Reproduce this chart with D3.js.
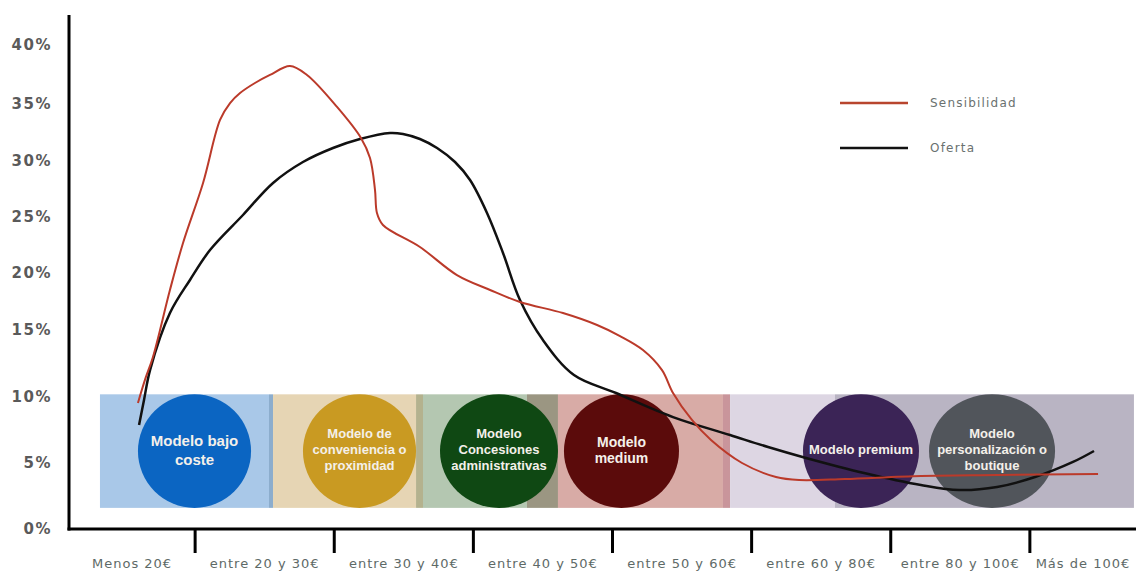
<!DOCTYPE html>
<html>
<head>
<meta charset="utf-8">
<script src="https://cdn.jsdelivr.net/npm/d3@7"></script>
<style>
  html, body { margin: 0; padding: 0; background: #fff; }
  svg { display: block; }
</style>
</head>
<body>
<svg id="chart" width="1136" height="571"></svg>
<script>
// ---------------- DATA ----------------
const categories = ["Menos 20€", "entre 20 y 30€", "entre 30 y 40€", "entre 40 y 50€",
  "entre 50 y 60€", "entre 60 y 80€", "entre 80 y 100€", "Más de 100€"];
const yTickValues = [0, 5, 10, 15, 20, 25, 30, 35, 40];

// Position along the price axis (in category units, 0 = start of "Menos 20€") and value (%)
const sensibilidadPos = [0.589, 0.640, 0.697, 0.819, 0.913, 1.057, 1.179, 1.251, 1.323, 1.430, 1.538, 1.682, 1.804,
  2.020, 2.192, 2.257, 2.293, 2.307, 2.350, 2.616, 2.882, 3.120, 3.335, 3.644, 3.889, 4.054, 4.219, 4.356,
  4.435, 4.571, 4.708, 4.931, 5.175, 5.341, 5.671, 6.217, 6.764, 7.490];
const sensibilidadVal = [9.55, 11.30, 12.99, 18.51, 22.68, 28.04, 33.60, 35.08, 35.93, 36.78, 37.46, 38.22, 37.46,
  34.74, 32.02, 30.26, 27.41, 25.36, 24.29, 22.32, 19.82, 18.51, 17.46, 16.49, 15.44, 14.55, 13.51, 12.01,
  10.30, 8.26, 6.74, 5.00, 3.94, 3.71, 3.79, 4.02, 4.09, 4.17];

const ofertaPos = [0.597, 0.633, 0.676, 0.819, 0.963, 1.107, 1.344, 1.560, 1.775, 1.991, 2.185, 2.401, 2.494,
  2.616, 2.739, 2.868, 2.976, 3.098, 3.213, 3.335, 3.500, 3.723, 4.025, 4.435, 4.845, 5.118, 5.391, 5.808,
  6.217, 6.491, 6.764, 7.037, 7.310, 7.461];
const ofertaVal = [7.88, 9.80, 12.01, 16.49, 19.39, 22.05, 25.18, 28.04, 29.91, 31.14, 31.93, 32.46, 32.37,
  31.93, 31.14, 29.91, 28.30, 25.36, 21.79, 17.63, 14.25, 11.64, 10.30, 8.48, 7.12, 6.21, 5.38, 4.24,
  3.33, 2.95, 3.18, 3.94, 5.08, 5.91];

const seriesNames = ["Sensibilidad", "Oferta"];

// Background model bands (category units) and their colours
const bandStart = [0.316, 1.531, 1.560, 2.588, 2.638, 3.385, 3.608, 4.794, 4.845, 5.599];
const bandEnd   = [1.531, 1.560, 2.588, 2.638, 3.385, 3.608, 4.794, 4.845, 5.599, 7.748];
const bandColors = ["#a9c8e8", "#8cadcd", "#e6d5b4", "#b4b28e", "#b4c7b1", "#9b9682", "#d8aba6", "#c9959b", "#ddd6e3", "#b9b4c3"];
const bandRange = [1.6, 10.2]; // % values covered by the strip

// Business models (circles)
const modelLines = [["Modelo bajo", "coste"], ["Modelo de", "conveniencia o", "proximidad"],
  ["Modelo", "Concesiones", "administrativas"], ["Modelo", "medium"], ["Modelo premium"],
  ["Modelo", "personalización o", "boutique"]];
const modelFrom = [0.589, 1.775, 2.760, 3.651, 5.369, 6.275];
const modelTo   = [1.402, 2.588, 3.608, 4.478, 6.203, 7.181];
const modelColors = ["#0b65c2", "#c99a22", "#0f4813", "#5b0b0b", "#3b2456", "#51555b"];
const modelFont = [15, 13, 13, 14, 13, 13];

// ---------------- LAYOUT ----------------
const svg = d3.select("#chart");
const axisLeft = 69, axisRight = 1136, axisTop = 15, axisBottom = 529;

const x = d3.scaleBand().domain(categories).range([56, 1169]).paddingInner(0).paddingOuter(0);
const xu = d3.scaleLinear().domain([0, categories.length]).range(x.range());
const y = d3.scaleLinear().domain(yTickValues).range([529, 463, 397, 330, 273, 217, 161, 104, 45]);

// Bands
svg.append("g").selectAll("rect").data(bandStart).join("rect")
  .attr("x", (d) => xu(d))
  .attr("width", (d, i) => xu(bandEnd[i]) - xu(d))
  .attr("y", y(bandRange[1]))
  .attr("height", y(bandRange[0]) - y(bandRange[1]))
  .attr("fill", (d, i) => bandColors[i]);

// Circles
const cy = y((bandRange[0] + bandRange[1]) / 2);
const ry = (y(bandRange[0]) - y(bandRange[1])) / 2;
const mg = svg.append("g").selectAll("g").data(modelLines).join("g");
mg.append("ellipse")
  .attr("cx", (d, i) => (xu(modelFrom[i]) + xu(modelTo[i])) / 2)
  .attr("cy", cy)
  .attr("rx", (d, i) => (xu(modelTo[i]) - xu(modelFrom[i])) / 2)
  .attr("ry", ry)
  .attr("fill", (d, i) => modelColors[i]);
mg.each(function (lines, i) {
  const g = d3.select(this);
  const fs = modelFont[i];
  const lh = fs === 15 ? 19 : 16;
  const cx = (xu(modelFrom[i]) + xu(modelTo[i])) / 2;
  lines.forEach((t, k) => {
    g.append("text")
      .attr("x", cx)
      .attr("y", cy - 1.5 + (k - (lines.length - 1) / 2) * lh)
      .attr("text-anchor", "middle")
      .attr("dominant-baseline", "central")
      .attr("font-family", "'Liberation Sans', Arial, sans-serif")
      .attr("font-weight", "bold")
      .attr("font-size", fs)
      .attr("fill", "#f4f0ea")
      .text(t);
  });
});

// Lines
const line = d3.line().x((d) => xu(d[0])).y((d) => y(d[1])).curve(d3.curveCatmullRom.alpha(0.5));
const sensData = sensibilidadPos.map((p, i) => [p, sensibilidadVal[i]]);
const ofertaData = ofertaPos.map((p, i) => [p, ofertaVal[i]]);
const lineColors = ["#bb3a2a", "#111111"];
const lineWidths = [2, 2.5];
svg.append("path").attr("d", line(ofertaData)).attr("fill", "none")
  .attr("stroke", lineColors[1]).attr("stroke-width", lineWidths[1]).attr("stroke-linejoin", "round");
svg.append("path").attr("d", line(sensData)).attr("fill", "none")
  .attr("stroke", lineColors[0]).attr("stroke-width", lineWidths[0]).attr("stroke-linejoin", "round");

// Axes
svg.append("line").attr("x1", axisLeft).attr("x2", axisLeft).attr("y1", axisTop).attr("y2", axisBottom + 1.5)
  .attr("stroke", "#000").attr("stroke-width", 3);
svg.append("line").attr("x1", axisLeft - 1.5).attr("x2", axisRight).attr("y1", axisBottom).attr("y2", axisBottom)
  .attr("stroke", "#000").attr("stroke-width", 3);
svg.append("g").selectAll("line").data(categories.slice(1)).join("line")
  .attr("x1", (d) => x(d)).attr("x2", (d) => x(d))
  .attr("y1", axisBottom).attr("y2", axisBottom + 24)
  .attr("stroke", "#000").attr("stroke-width", 3);

svg.append("g").selectAll("text").data(categories).join("text")
  .attr("x", (d) => (Math.max(x(d), axisLeft) + Math.min(x(d) + x.bandwidth(), axisRight)) / 2)
  .attr("y", 563)
  .attr("text-anchor", "middle")
  .attr("dominant-baseline", "central")
  .attr("font-family", "'DejaVu Sans', sans-serif")
  .attr("font-size", 13)
  .attr("letter-spacing", 1)
  .attr("fill", "#5e6a67")
  .text((d) => d);

svg.append("g").selectAll("text").data(yTickValues).join("text")
  .attr("x", 52)
  .attr("y", (d) => y(d))
  .attr("text-anchor", "end")
  .attr("dominant-baseline", "central")
  .attr("font-family", "'DejaVu Sans', sans-serif")
  .attr("font-size", 15)
  .attr("font-weight", "bold")
  .attr("letter-spacing", 1.5)
  .attr("fill", "#5a5a5a")
  .text((d) => d + "%");

// Legend
const legendY = [103, 148];
const lg = svg.append("g").selectAll("g").data(seriesNames).join("g");
lg.append("line").attr("x1", 840).attr("x2", 908)
  .attr("y1", (d, i) => legendY[i]).attr("y2", (d, i) => legendY[i])
  .attr("stroke", (d, i) => i === 0 ? "#b8452e" : "#111").attr("stroke-width", 2.5);
lg.append("text").attr("x", 930).attr("y", (d, i) => legendY[i])
  .attr("dominant-baseline", "central")
  .attr("font-family", "'DejaVu Sans', sans-serif")
  .attr("font-size", 12)
  .attr("letter-spacing", 1.2)
  .attr("fill", "#6a716f")
  .text((d) => d);
</script>
</body>
</html>
